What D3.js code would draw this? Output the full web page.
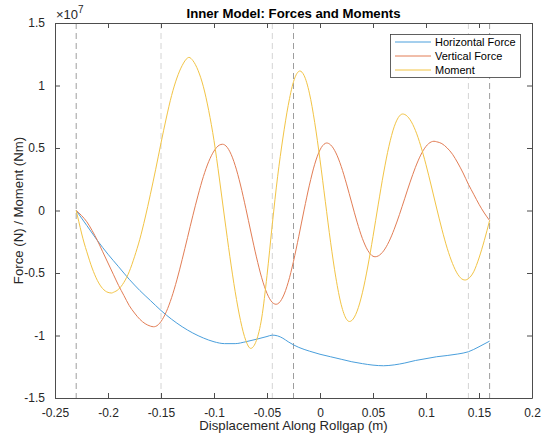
<!DOCTYPE html>
<html><head><meta charset="utf-8">
<script src="https://cdn.jsdelivr.net/npm/d3@7"></script>
<style>html,body{margin:0;padding:0;background:#fff;} svg{display:block;}</style>
</head><body>
<script>
const title = "Inner Model: Forces and Moments";
const xLabel = "Displacement Along Rollgap (m)";
const yLabel = "Force (N) / Moment (Nm)";
const seriesNames = ["Horizontal Force", "Vertical Force", "Moment"];
const seriesColors = ["#4a9fdc", "#e27d55", "#f2c445"];
const xTicks = [-0.25,-0.2,-0.15,-0.1,-0.05,0,0.05,0.1,0.15,0.2];
const xTickLabels = ["-0.25","-0.2","-0.15","-0.1","-0.05","0","0.05","0.1","0.15","0.2"];
const yTicks = [-1.5,-1,-0.5,0,0.5,1,1.5];
const yTickLabels = ["-1.5","-1","-0.5","0","0.5","1","1.5"];
const dashDark = [-0.23,-0.025,0.16];
const dashLight = [-0.15,-0.045,0.14];

// values in units of 1e7
const horizontal = [[-0.23,0],[-0.22,-0.12],[-0.21,-0.24],[-0.2,-0.35],[-0.19,-0.45],[-0.18,-0.55],[-0.17,-0.64],[-0.16,-0.72],[-0.15,-0.80],[-0.14,-0.87],[-0.13,-0.93],[-0.12,-0.98],[-0.11,-1.02],[-0.1,-1.05],[-0.09,-1.065],[-0.08,-1.065],[-0.07,-1.05],[-0.06,-1.03],[-0.05,-1.008],[-0.045,-0.997],[-0.04,-1.003],[-0.035,-1.022],[-0.03,-1.05],[-0.025,-1.075],[-0.02,-1.095],[-0.01,-1.125],[0,-1.15],[0.01,-1.17],[0.02,-1.19],[0.03,-1.21],[0.04,-1.225],[0.05,-1.237],[0.06,-1.242],[0.07,-1.235],[0.08,-1.22],[0.09,-1.2],[0.1,-1.185],[0.11,-1.17],[0.12,-1.16],[0.13,-1.148],[0.14,-1.13],[0.15,-1.09],[0.16,-1.045]];

const vertical = [[-0.23,0],[-0.225,-0.04],[-0.22,-0.09],[-0.215,-0.16],[-0.21,-0.24],[-0.205,-0.33],[-0.2,-0.42],[-0.195,-0.51],[-0.19,-0.60],[-0.185,-0.68],[-0.18,-0.76],[-0.175,-0.82],[-0.17,-0.87],[-0.165,-0.905],[-0.16,-0.925],[-0.157,-0.93],[-0.155,-0.927],[-0.15,-0.888],[-0.145,-0.81],[-0.14,-0.697],[-0.135,-0.555],[-0.13,-0.391],[-0.125,-0.217],[-0.12,-0.042],[-0.115,0.123],[-0.11,0.272],[-0.105,0.391],[-0.1,0.476],[-0.095,0.523],[-0.092,0.53],[-0.09,0.525],[-0.085,0.47],[-0.08,0.36],[-0.075,0.204],[-0.07,0.018],[-0.065,-0.18],[-0.06,-0.371],[-0.055,-0.538],[-0.05,-0.663],[-0.045,-0.735],[-0.0415,-0.75],[-0.04,-0.747],[-0.035,-0.692],[-0.03,-0.575],[-0.025,-0.406],[-0.02,-0.206],[-0.015,0.005],[-0.01,0.203],[-0.005,0.37],[0,0.485],[0.005,0.537],[0.0063,0.54],[0.01,0.525],[0.015,0.461],[0.02,0.353],[0.025,0.213],[0.03,0.059],[0.035,-0.093],[0.04,-0.224],[0.045,-0.318],[0.05,-0.366],[0.052,-0.37],[0.055,-0.363],[0.06,-0.323],[0.065,-0.25],[0.07,-0.15],[0.075,-0.031],[0.08,0.098],[0.085,0.227],[0.09,0.345],[0.095,0.443],[0.1,0.513],[0.105,0.549],[0.1075,0.554],[0.11,0.55],[0.115,0.535],[0.12,0.5],[0.125,0.45],[0.13,0.38],[0.135,0.30],[0.14,0.21],[0.145,0.13],[0.15,0.05],[0.155,-0.02],[0.16,-0.08]];

const moment = [[-0.23,0],[-0.2275,-0.09],[-0.225,-0.18],[-0.2225,-0.26],[-0.22,-0.33],[-0.215,-0.46],[-0.21,-0.56],[-0.205,-0.625],[-0.2,-0.655],[-0.1965,-0.66],[-0.195,-0.655],[-0.19,-0.63],[-0.185,-0.575],[-0.18,-0.49],[-0.175,-0.37],[-0.17,-0.23],[-0.165,-0.06],[-0.16,0.13],[-0.155,0.33],[-0.15,0.54],[-0.145,0.74],[-0.14,0.92],[-0.135,1.06],[-0.13,1.16],[-0.125,1.22],[-0.1236,1.225],[-0.12,1.20],[-0.115,1.12],[-0.11,0.99],[-0.105,0.80],[-0.1,0.56],[-0.095,0.26],[-0.09,-0.06],[-0.085,-0.37],[-0.08,-0.65],[-0.075,-0.88],[-0.07,-1.04],[-0.0654,-1.103],[-0.06,-1.04],[-0.055,-0.86],[-0.05,-0.52],[-0.045,-0.11],[-0.04,0.27],[-0.035,0.58],[-0.03,0.84],[-0.025,1.03],[-0.02,1.113],[-0.019,1.116],[-0.015,1.08],[-0.01,0.939],[-0.005,0.705],[0,0.406],[0.005,0.074],[0.01,-0.254],[0.015,-0.539],[0.02,-0.753],[0.025,-0.87],[0.0278,-0.888],[0.03,-0.88],[0.035,-0.805],[0.04,-0.658],[0.045,-0.452],[0.05,-0.208],[0.055,0.051],[0.06,0.3],[0.065,0.513],[0.07,0.67],[0.075,0.757],[0.078,0.772],[0.08,0.768],[0.085,0.726],[0.09,0.641],[0.095,0.518],[0.1,0.366],[0.105,0.196],[0.11,0.02],[0.115,-0.15],[0.12,-0.302],[0.125,-0.424],[0.13,-0.511],[0.135,-0.553],[0.137,-0.556],[0.14,-0.545],[0.145,-0.49],[0.15,-0.38],[0.155,-0.24],[0.16,-0.08]];

const allSeries = [horizontal, vertical, moment];

const W = 544, H = 443;
const L = 55, R = 532, T = 23, B = 398;
const font = "'Liberation Sans', Arial, Helvetica, sans-serif";
const axisColor = "#4d4d4d";

const svg = d3.select("body").append("svg").attr("width", W).attr("height", H);
const x = d3.scaleLinear().domain([-0.25, 0.2]).range([L, R]);
const y = d3.scaleLinear().domain([-1.5, 1.5]).range([B, T]);

// dashed verticals
svg.append("g").selectAll("line").data(dashLight).join("line")
  .attr("x1", d => x(d)).attr("x2", d => x(d)).attr("y1", T).attr("y2", B)
  .attr("stroke", "#d4d4d4").attr("stroke-width", 1).attr("stroke-dasharray", "6,4");
svg.append("g").selectAll("line").data(dashDark).join("line")
  .attr("x1", d => x(d)).attr("x2", d => x(d)).attr("y1", T).attr("y2", B)
  .attr("stroke", "#9e9e9e").attr("stroke-width", 1).attr("stroke-dasharray", "6,4");

// series
const line = d3.line().x(d => x(d[0])).y(d => y(d[1])).curve(d3.curveMonotoneX);
svg.append("g").selectAll("path").data(allSeries).join("path")
  .attr("d", line).attr("fill", "none")
  .attr("stroke", (d, i) => seriesColors[i]).attr("stroke-width", 1);

// axes (ticks inward, box on)
const tickLen = 5;
const bottomAxis = d3.axisBottom(x).tickValues(xTicks).tickFormat((d, i) => xTickLabels[i]).tickSizeInner(-tickLen).tickSizeOuter(0).tickPadding(10);
const topAxis = d3.axisTop(x).tickValues(xTicks).tickFormat("").tickSizeInner(-tickLen).tickSizeOuter(0);
const leftAxis = d3.axisLeft(y).tickValues(yTicks).tickFormat((d, i) => yTickLabels[i]).tickSizeInner(-tickLen).tickSizeOuter(0).tickPadding(10);
const rightAxis = d3.axisRight(y).tickValues(yTicks).tickFormat("").tickSizeInner(-tickLen).tickSizeOuter(0);

function style(g) {
  g.selectAll("path").attr("stroke", axisColor);
  g.selectAll("line").attr("stroke", axisColor);
  g.selectAll("text").attr("fill", "#262626").style("font-family", font).style("font-size", "12px");
}
svg.append("g").attr("transform", `translate(0,${B})`).call(bottomAxis).call(style);
svg.append("g").attr("transform", `translate(0,${T})`).call(topAxis).call(style);
svg.append("g").attr("transform", `translate(${L},0)`).call(leftAxis).call(style);
svg.append("g").attr("transform", `translate(${R},0)`).call(rightAxis).call(style);

// exponent label
const ex = svg.append("text").attr("x", L + 1).attr("y", 19).attr("fill", "#262626")
  .style("font-family", font).style("font-size", "13px");
ex.append("tspan").text("×10");
ex.append("tspan").attr("dy", -6).style("font-size", "10px").text("7");

// title & labels
svg.append("text").attr("x", (L + R) / 2).attr("y", 18).attr("text-anchor", "middle")
  .style("font-family", font).style("font-size", "13.2px").style("font-weight", "bold").attr("fill", "#000").text(title);
svg.append("text").attr("x", (L + R) / 2).attr("y", 430).attr("text-anchor", "middle")
  .style("font-family", font).style("font-size", "13.2px").attr("fill", "#262626").text(xLabel);
svg.append("text").attr("transform", `translate(23,${(T + B) / 2}) rotate(-90)`).attr("text-anchor", "middle")
  .style("font-family", font).style("font-size", "13.2px").attr("fill", "#262626").text(yLabel);

// legend
const lg = svg.append("g");
lg.append("rect").attr("x", 390.5).attr("y", 34.5).attr("width", 130).attr("height", 43)
  .attr("fill", "#fff").attr("stroke", "#3a3a3a").attr("stroke-width", 0.8);
seriesNames.forEach((n, i) => {
  const yy = 42 + i * 14;
  lg.append("line").attr("x1", 395).attr("x2", 431).attr("y1", yy).attr("y2", yy)
    .attr("stroke", seriesColors[i]).attr("stroke-width", 1);
  lg.append("text").attr("x", 435).attr("y", yy + 4).style("font-family", font).style("font-size", "11px")
    .attr("fill", "#000").text(n);
});
</script>
</body></html>
